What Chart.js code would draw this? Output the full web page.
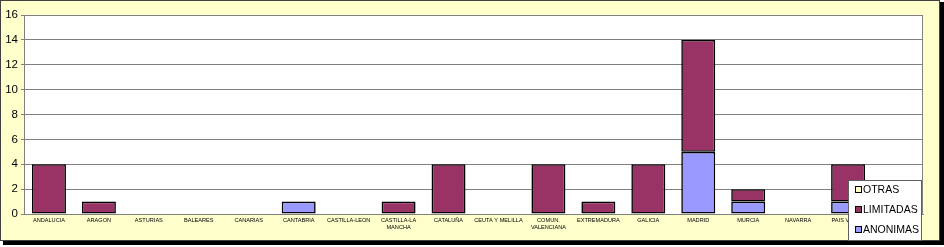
<!DOCTYPE html>
<html>
<head>
<meta charset="utf-8">
<script src="https://cdn.jsdelivr.net/npm/chart.js@4/dist/chart.umd.min.js"></script>
<style>
html,body{margin:0;padding:0;background:#fff;}
#wrap{width:944px;height:247px;position:relative;}
</style>
</head>
<body>
<div id="wrap"><canvas id="c" width="944" height="247"></canvas></div>
<script>
const categories = ['ANDALUCIA','ARAGON','ASTURIAS','BALEARES','CANARIAS','CANTABRIA','CASTILLA-LEON',['CASTILLA-LA','MANCHA'],'CATALUÑA','CEUTA Y MELILLA',['COMUN.','VALENCIANA'],'EXTREMADURA','GALICIA','MADRID','MURCIA','NAVARRA','PAIS VASCO','LA RIOJA'];
const anonimas  = [0,0,0,0,0,1,0,0,0,0,0,0,0,5,1,0,1,0];
const limitadas = [4,1,0,0,0,0,0,1,4,0,4,1,4,9,1,0,3,0];
const otras     = [0,0,0,0,0,0,0,0,0,0,0,0,0,0,0,0,0,0];
const yTicks = [0,2,4,6,8,10,12,14,16];

const frame = {
  id:'frame',
  beforeDraw(chart){
    const ctx = chart.ctx, a = chart.chartArea;
    ctx.save();
    ctx.fillStyle = '#000';
    ctx.fillRect(3, 241, 941, 4);
    ctx.fillRect(940, 2, 4, 243);
    ctx.fillStyle = '#FFFFCC';
    ctx.fillRect(0, 0, 940, 241);
    ctx.strokeStyle = '#404040';
    ctx.lineWidth = 1;
    ctx.strokeRect(0.5, 0.5, 939, 240);
    ctx.fillStyle = '#fff';
    ctx.fillRect(a.left, a.top, a.right - a.left, a.bottom - a.top);
    ctx.strokeStyle = '#808080';
    ctx.beginPath();
    ctx.moveTo(Math.round(a.right)-0.5, a.top);
    ctx.lineTo(Math.round(a.right)-0.5, a.bottom);
    ctx.stroke();
    ctx.restore();
  },
  afterDraw(chart){
    const ctx = chart.ctx;
    const x0 = 848, y0 = 180, w = 73, h = 60;
    ctx.save();
    ctx.fillStyle = '#fff';
    ctx.fillRect(x0, y0, w, h);
    ctx.strokeStyle = '#606060';
    ctx.lineWidth = 1;
    ctx.strokeRect(x0 + 0.5, y0 + 0.5, w, h);
    const ds = chart.data.datasets.slice().reverse();
    ctx.font = '10.5px "Liberation Sans", Arial, sans-serif';
    ctx.textBaseline = 'middle';
    ds.forEach((d, i) => {
      const yy = y0 + 10 + i * 20;
      ctx.fillStyle = d.backgroundColor;
      ctx.fillRect(855.5, yy - 3.5, 6, 6);
      ctx.strokeStyle = '#000';
      ctx.strokeRect(855.5, yy - 3.5, 6, 6);
      ctx.fillStyle = '#000';
      ctx.fillText(d.label, 863, yy + 0.5);
    });
    ctx.restore();
  }
};

const common = {
  borderColor:'#000',
  borderWidth:(c) => (c.raw ? 1.6 : 0),
  borderSkipped:false, categoryPercentage:0.68, barPercentage:1
};
new Chart(document.getElementById('c'), {
  type:'bar',
  data:{
    labels:categories,
    datasets:[
      Object.assign({label:'ANONIMAS', data:anonimas, backgroundColor:'#9999FF'}, common),
      Object.assign({label:'LIMITADAS', data:limitadas, backgroundColor:'#993366'}, common),
      Object.assign({label:'OTRAS', data:otras, backgroundColor:'#FFFFCC'}, common)
    ]
  },
  options:{
    responsive:false,
    animation:false,
    devicePixelRatio:1,
    layout:{padding:{top:15, right:21, left:0, bottom:0}},
    plugins:{legend:{display:false}, tooltip:{enabled:false}},
    scales:{
      x:{
        stacked:true,
        grid:{display:false, drawTicks:false, tickLength:0},
        border:{display:true, color:'#808080'},
        ticks:{autoSkip:false, maxRotation:0, minRotation:0, color:'#000', padding:3,
               font:{family:'"Liberation Sans", Arial, sans-serif', size:5.6}},
        afterFit(s){ s.height = 33; }
      },
      y:{
        stacked:true,
        min:0, max:16,
        afterBuildTicks(s){ s.ticks = yTicks.map(v => ({value:v})); },
        grid:{color:'#808080', lineWidth:1, tickLength:3, drawTicks:true},
        border:{display:true, color:'#808080'},
        ticks:{color:'#000', padding:3, font:{family:'"Liberation Sans", Arial, sans-serif', size:11.5}},
        afterFit(s){ s.width = 24; }
      }
    }
  },
  plugins:[frame]
});
</script>
</body>
</html>
